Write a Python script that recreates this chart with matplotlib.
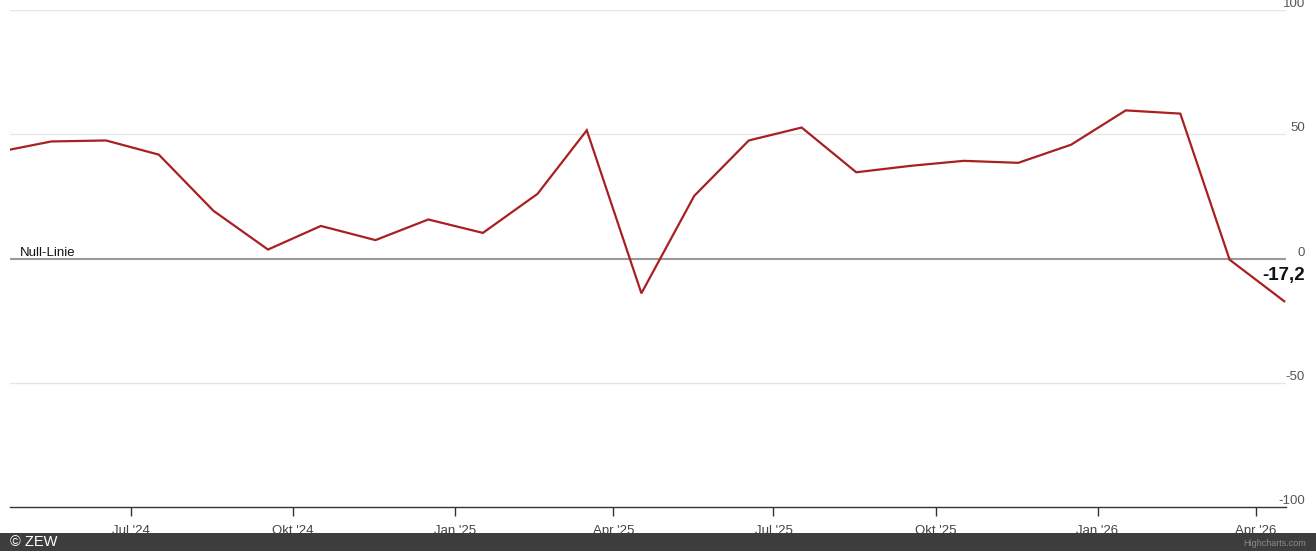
import matplotlib
matplotlib.use("Agg")
import matplotlib.pyplot as plt
from matplotlib.patches import Rectangle
import datetime as dt

plt.rcParams['font.family'] = ['Liberation Sans', 'DejaVu Sans']

# Data: ZEW economic sentiment (monthly)
months = ["2024-04", "2024-05", "2024-06", "2024-07", "2024-08", "2024-09", "2024-10",
          "2024-11", "2024-12", "2025-01", "2025-02", "2025-03", "2025-04", "2025-05",
          "2025-06", "2025-07", "2025-08", "2025-09", "2025-10", "2025-11", "2025-12",
          "2026-01", "2026-02", "2026-03", "2026-04"]
values = [42.9, 47.1, 47.5, 41.8, 19.2, 3.6, 13.1, 7.4, 15.7, 10.3, 26.0, 51.6, -14.0,
          25.2, 47.5, 52.7, 34.7, 37.3, 39.3, 38.5, 45.8, 59.6, 58.3, -0.5, -17.2]
tick_dates = ["2024-07-01", "2024-10-01", "2025-01-01", "2025-04-01", "2025-07-01",
              "2025-10-01", "2026-01-01", "2026-04-01"]
tick_labels = ["Jul '24", "Okt '24", "Jan '25", "Apr '25", "Jul '25", "Okt '25", "Jan '26", "Apr '26"]
y_ticks = [100, 50, 0, -50, -100]
last_label = "-17,2"

dates = [dt.datetime.strptime(m + "-17", "%Y-%m-%d") for m in months]
tdates = [dt.datetime.strptime(t, "%Y-%m-%d") for t in tick_dates]

W, H = 1316, 551
fig = plt.figure(figsize=(W / 100, H / 100), dpi=100)
fig.patch.set_facecolor("white")
L, R, T, B = 10, 1286, 10, 507
ax = fig.add_axes([L / W, (H - B) / H, (R - L) / W, (B - T) / H])
ax.set_facecolor("white")

ax.plot(dates, values, color="#a8201f", lw=1.6, zorder=4, solid_joinstyle="miter", clip_on=True)

ax.set_ylim(-100, 100)
ax.set_xlim(dt.datetime(2024, 4, 23, 12), dt.datetime(2026, 4, 18))

# gridlines
for v in y_ticks:
    if v in (0, -100):
        continue
    ax.axhline(v, color="#e6e6e6", lw=1, zorder=1)
ax.axhline(0, color="#999999", lw=1.5, zorder=3)

for s in ["top", "right", "left"]:
    ax.spines[s].set_visible(False)
ax.spines["bottom"].set_color("#333333")
ax.spines["bottom"].set_linewidth(1)
ax.set_yticks([])
ax.set_xticks(tdates)
ax.set_xticklabels(tick_labels, fontsize=9.5, color="#444444")
ax.tick_params(axis="x", length=6.5, width=1, color="#333333", pad=6.5)

# y labels at right above gridlines
for v in y_ticks:
    ax.annotate(str(v), xy=(1, v), xycoords=("axes fraction", "data"),
                xytext=(19, 0), textcoords="offset pixels", ha="right", va="bottom",
                fontsize=9.5, color="#555555", annotation_clip=False)

ax.text(10 / (R - L), 0, "Null-Linie", transform=ax.get_yaxis_transform(),
        ha="left", va="bottom", fontsize=9.5, color="#111111")
ax.annotate(last_label, xy=(1, values[-1]), xycoords=("axes fraction", "data"),
            xytext=(19, 26), textcoords="offset pixels", ha="right", va="center",
            fontsize=13.5, fontweight="bold", color="#111111", annotation_clip=False)

# bottom credit bar
bar_h = 18
fig.add_artist(Rectangle((0, 0), 1, bar_h / H, transform=fig.transFigure,
                         facecolor="#3d3d3d", edgecolor="none", zorder=10))
fig.text(10 / W, 9 / H, "© ZEW", color="white", fontsize=10.5, va="center", ha="left", zorder=11)
fig.text(1306 / W, 7 / H, "Highcharts.com", color="#8a8a8a", fontsize=6.5, va="center", ha="right", zorder=11)

fig.savefig("out.png", dpi=100)
